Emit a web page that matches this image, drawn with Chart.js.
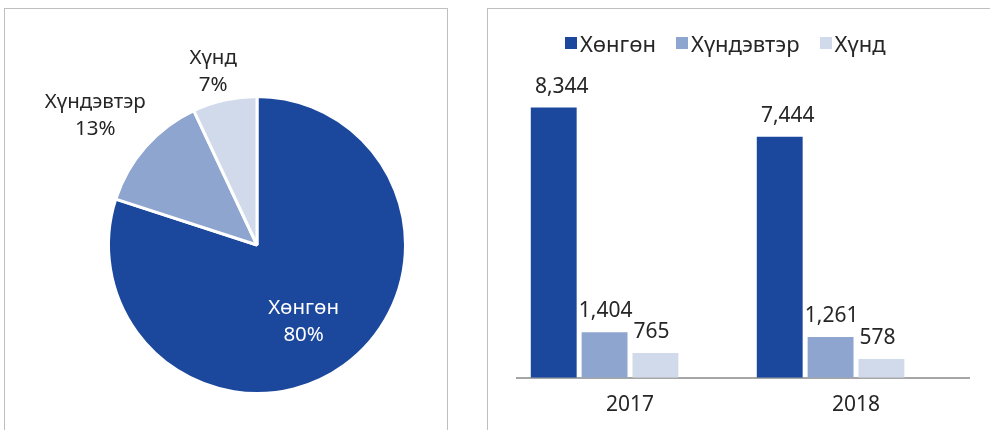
<!DOCTYPE html>
<html>
<head>
<meta charset="utf-8">
<script src="https://cdn.jsdelivr.net/npm/chart.js@4"></script>
<style>
    body { margin: 0; width: 990px; height: 430px; overflow: hidden; background: #fff; font-family: "Noto Sans", sans-serif; }
    .panel { position: absolute; border: 1px solid #bfbfbf; border-bottom: none; box-sizing: border-box; }
    #pieBox { left: 4px; top: 8px; width: 444px; height: 430px; }
    #barBox { left: 487px; top: 8px; width: 520px; height: 430px; }
    #pieWrap { position: absolute; left: 0; top: 0; width: 460px; height: 430px; }
    #barWrap { position: absolute; left: 488px; top: 0; width: 502px; height: 433px; }
    #legend { position: absolute; left: 565px; top: 28px; display: flex; align-items: center; font-size: 22px; line-height: 30px; color: #262626; white-space: nowrap; }
    #legend .item { display: flex; align-items: center; margin-right: 20px; }
    #legend .box { width: 12px; height: 12px; margin-right: 3px; }
</style>
</head>
<body>
<div class="panel" id="pieBox"></div>
<div class="panel" id="barBox"></div>
<div id="pieWrap"><canvas id="pieChart"></canvas></div>
<div id="barWrap"><canvas id="barChart"></canvas></div>
<div id="legend"></div>

<script>
// --- data ---
const years = ['2017', '2018'];
const seriesNames = ['Хөнгөн', 'Хүндэвтэр', 'Хүнд'];
const lightValues = [8344, 7444];
const mediumValues = [1404, 1261];
const heavyValues = [765, 578];
const pieShares = [80, 13, 7];

// --- style ---
const seriesColors = ['#1b489d', '#8ea5d0', '#d1daeb'];
const textColor = '#262626';
const pieLabelDist = [0.58, 1.38, 1.2];
const pieLabelNudge = [[-4, 6], [-8, 6], [-5, 0]];
const pieLabelColors = ['#ffffff', textColor, textColor];
const barLabelShift = [8, 1, -4];

// legend
const legendEl = document.getElementById('legend');
legendEl.innerHTML = seriesNames.map((name, i) =>
    `<div class="item"><span class="box" style="background:${seriesColors[i]}"></span><span>${name}</span></div>`
).join('');

const pieLabels = {
    id: 'pieLabels',
    afterDatasetsDraw(chart) {
        const ctx = chart.ctx;
        const meta = chart.getDatasetMeta(0);
        ctx.save();
        ctx.font = '20.5px "Noto Sans", sans-serif';
        ctx.textAlign = 'center';
        ctx.textBaseline = 'middle';
        meta.data.forEach((arc, i) => {
            const p = arc.getProps(['x', 'y', 'startAngle', 'endAngle', 'outerRadius'], true);
            const mid = (p.startAngle + p.endAngle) / 2;
            const r = p.outerRadius * pieLabelDist[i];
            const cx = p.x + Math.cos(mid) * r + pieLabelNudge[i][0];
            const cy = p.y + Math.sin(mid) * r + pieLabelNudge[i][1];
            ctx.fillStyle = pieLabelColors[i];
            ctx.fillText(chart.data.labels[i], cx, cy - 13);
            ctx.fillText(pieShares[i] + '%', cx, cy + 14);
        });
        ctx.restore();
    }
};

new Chart(document.getElementById('pieChart'), {
    type: 'pie',
    data: {
        labels: seriesNames,
        datasets: [{
            data: pieShares,
            backgroundColor: seriesColors,
            borderColor: '#ffffff',
            borderWidth: 3
        }]
    },
    options: {
        responsive: true,
        maintainAspectRatio: false,
        animation: false,
        layout: { padding: { left: 107, right: 53, top: 95, bottom: 35 } },
        plugins: { legend: { display: false }, tooltip: { enabled: false } }
    },
    plugins: [pieLabels]
});

const barLabels = {
    id: 'barLabels',
    afterDatasetsDraw(chart) {
        const ctx = chart.ctx;
        ctx.save();
        ctx.font = '21px "Noto Sans", sans-serif';
        ctx.fillStyle = textColor;
        ctx.textAlign = 'center';
        ctx.textBaseline = 'alphabetic';
        chart.data.datasets.forEach((ds, di) => {
            chart.getDatasetMeta(di).data.forEach((bar, i) => {
                if (ds.data[i] == null) return;
                ctx.fillText(ds.data[i].toLocaleString('en-US'), bar.x + barLabelShift[di], bar.y - 15);
            });
        });
        ctx.restore();
    }
};

const barSeries = [lightValues, mediumValues, heavyValues];
const barDatasets = barSeries.map((vals, i) => ({
    label: seriesNames[i],
    data: vals,
    backgroundColor: seriesColors[i],
    barPercentage: 0.902,
    categoryPercentage: 0.9
}));
// the source chart keeps an empty slot after the three series, which pushes the bars left of the year label
barDatasets.push({ label: '', data: years.map(() => null), barPercentage: 0.902, categoryPercentage: 0.9 });

new Chart(document.getElementById('barChart'), {
    type: 'bar',
    data: { labels: years, datasets: barDatasets },
    options: {
        responsive: true,
        maintainAspectRatio: false,
        animation: false,
        layout: { padding: { left: 29, right: 21, top: 54, bottom: 0 } },
        plugins: { legend: { display: false }, tooltip: { enabled: false } },
        scales: {
            x: {
                grid: { display: false, drawTicks: false },
                border: { color: '#a6a6a6', width: 2 },
                ticks: { color: textColor, font: { family: '"Noto Sans", sans-serif', size: 21 }, padding: 15 }
            },
            y: { display: false, min: 0, max: 10000 }
        }
    },
    plugins: [barLabels]
});
</script>
</body>
</html>
